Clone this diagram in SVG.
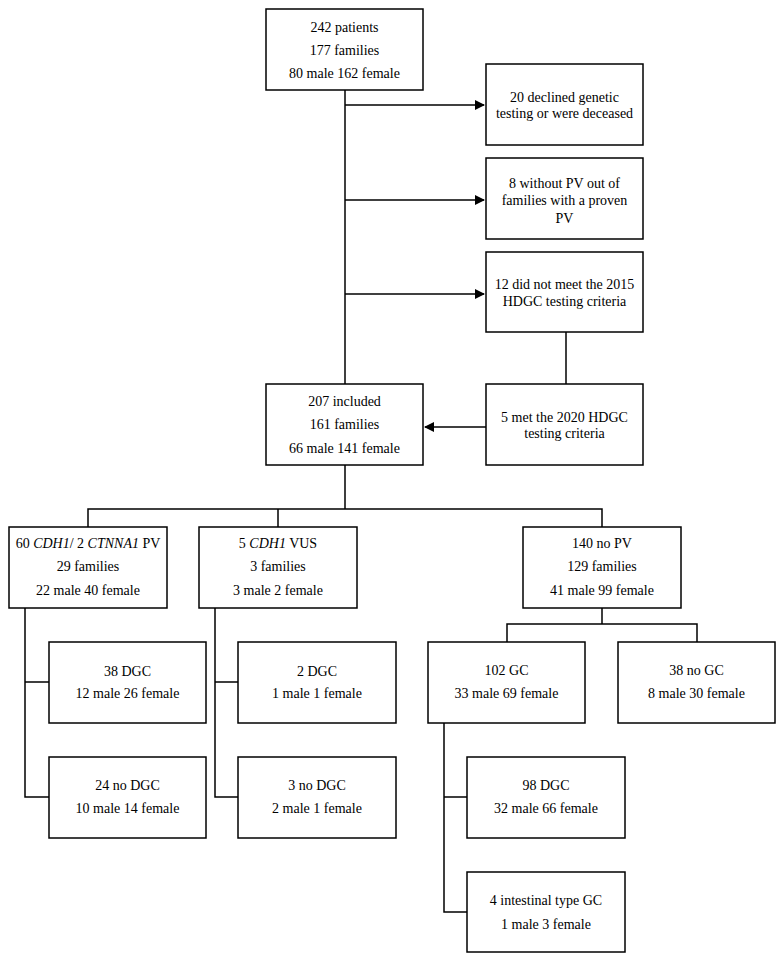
<svg xmlns="http://www.w3.org/2000/svg" width="782" height="959" viewBox="0 0 782 959">
<style>
rect{fill:#fff;stroke:#000;stroke-width:1.5}
text{font-family:"Liberation Serif","DejaVu Serif",serif;font-size:14px;text-anchor:middle;fill:#000}
.c line,.c path{stroke:#000;stroke-width:1.5;fill:none}
</style>
<defs><marker id="a" markerWidth="10" markerHeight="10" refX="9" refY="5" orient="auto" markerUnits="userSpaceOnUse"><path d="M0,0 L10,5 L0,10z" fill="#000"/></marker></defs>
<g class="c">
<line x1="345" y1="90" x2="345" y2="384"/>
<line x1="345" y1="105" x2="484" y2="105" marker-end="url(#a)"/>
<line x1="345" y1="200" x2="484" y2="200" marker-end="url(#a)"/>
<line x1="345" y1="294" x2="484" y2="294" marker-end="url(#a)"/>
<line x1="566" y1="332" x2="566" y2="384"/>
<line x1="486" y1="427" x2="425" y2="427" marker-end="url(#a)"/>
<path d="M345,465V509M88,527V509H602V527M278,509V527"/>
<path d="M25,608V797H49M25,682H49"/>
<path d="M215,608V797H238M215,682H238"/>
<path d="M602,608V624M507,642V624H697V642"/>
<path d="M444,723V912H467M444,797H467"/>
</g>
<g id="n1"><rect x="266" y="9" width="157" height="81"/><text x="344.5" y="32">242 patients</text><text x="344.5" y="55">177 families</text><text x="344.5" y="78">80 male 162 female</text></g>
<g id="n2"><rect x="486" y="64" width="157" height="81"/><text x="564.5" y="102">20 declined genetic</text><text x="564.5" y="118">testing or were deceased</text></g>
<g id="n3"><rect x="486" y="158" width="157" height="81"/><text x="564.5" y="188">8 without PV out of</text><text x="564.5" y="205">families with a proven</text><text x="564.5" y="223">PV</text></g>
<g id="n4"><rect x="486" y="252" width="157" height="80"/><text x="564.5" y="289">12 did not meet the 2015</text><text x="564.5" y="306">HDGC testing criteria</text></g>
<g id="n5"><rect x="486" y="384" width="157" height="81"/><text x="564.5" y="422">5 met the 2020 HDGC</text><text x="564.5" y="438">testing criteria</text></g>
<g id="n6"><rect x="266" y="384" width="157" height="81"/><text x="344.5" y="406">207 included</text><text x="344.5" y="429">161 families</text><text x="344.5" y="453">66 male 141 female</text></g>
<g id="n7"><rect x="9" y="527" width="158" height="81"/><text x="88" y="548">60 <tspan font-style="italic">CDH1</tspan>/ 2 <tspan font-style="italic">CTNNA1</tspan> PV</text><text x="88" y="571">29 families</text><text x="88" y="595">22 male 40 female</text></g>
<g id="n8"><rect x="199" y="527" width="158" height="81"/><text x="278" y="548">5 <tspan font-style="italic">CDH1</tspan> VUS</text><text x="278" y="571">3 families</text><text x="278" y="595">3 male 2 female</text></g>
<g id="n9"><rect x="523" y="527" width="158" height="81"/><text x="602" y="548">140 no PV</text><text x="602" y="571">129 families</text><text x="602" y="595">41 male 99 female</text></g>
<g id="n10"><rect x="49" y="642" width="157" height="81"/><text x="127.5" y="676">38 DGC</text><text x="127.5" y="698">12 male 26 female</text></g>
<g id="n11"><rect x="49" y="757" width="157" height="81"/><text x="127.5" y="790">24 no DGC</text><text x="127.5" y="813">10 male 14 female</text></g>
<g id="n12"><rect x="238" y="642" width="158" height="81"/><text x="317" y="676">2 DGC</text><text x="317" y="698">1 male 1 female</text></g>
<g id="n13"><rect x="238" y="757" width="158" height="81"/><text x="317" y="790">3 no DGC</text><text x="317" y="813">2 male 1 female</text></g>
<g id="n14"><rect x="428" y="642" width="157" height="81"/><text x="506.5" y="675">102 GC</text><text x="506.5" y="698">33 male 69 female</text></g>
<g id="n15"><rect x="618" y="642" width="157" height="81"/><text x="696.5" y="675">38 no GC</text><text x="696.5" y="698">8 male 30 female</text></g>
<g id="n16"><rect x="467" y="757" width="158" height="81"/><text x="546" y="790">98 DGC</text><text x="546" y="813">32 male 66 female</text></g>
<g id="n17"><rect x="467" y="872" width="158" height="80"/><text x="546" y="905">4 intestinal type GC</text><text x="546" y="929">1 male 3 female</text></g>
</svg>
